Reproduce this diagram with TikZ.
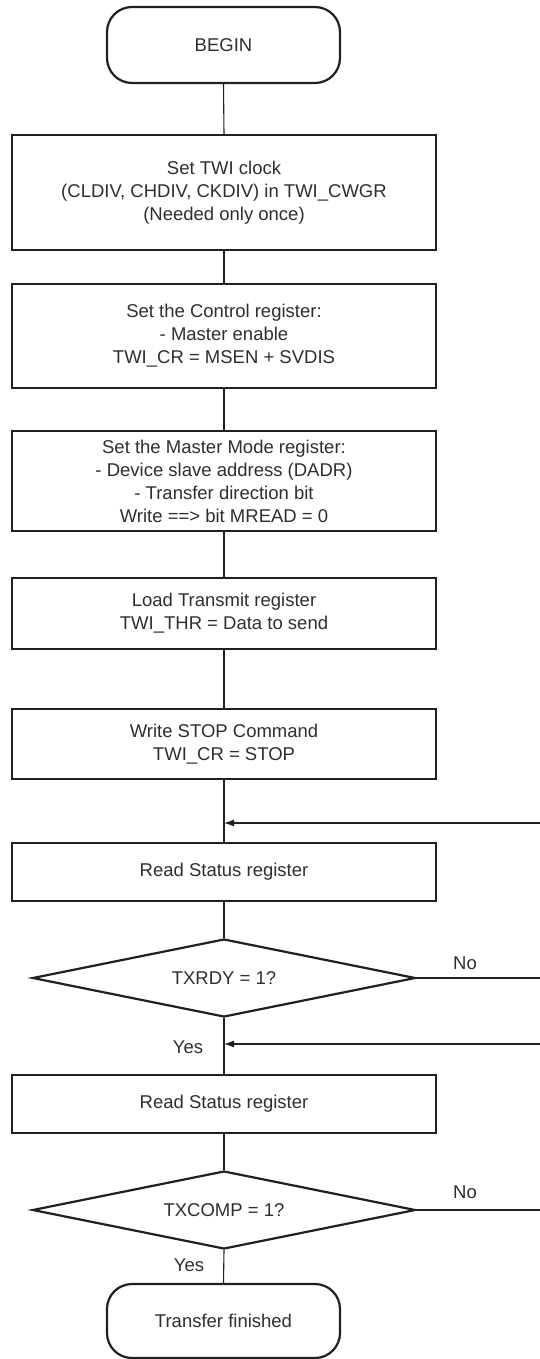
\documentclass[tikz,border=0pt]{standalone}
\usepackage{fontspec}
\setmainfont{Liberation Sans}
\usetikzlibrary{shapes.geometric,arrows.meta}
\definecolor{ink}{HTML}{231F20}
\definecolor{txt}{HTML}{2E2E2E}
\tikzset{
  base/.style={draw=ink, line width=2.2pt, text=txt, align=center, inner sep=0pt,
    font=\fontsize{18.5}{23}\selectfont},
  term/.style={base, rounded corners=25pt, minimum width=233pt, minimum height=76pt},
  proc/.style={base, minimum width=424pt},
  decision/.style={base, diamond, minimum width=383pt, minimum height=78pt, aspect=4.9},
  conn/.style={draw=ink, line width=1.1pt},
  arr/.style={conn, -{Latex[length=10pt,width=7pt]}},
  lbl/.style={text=txt, inner sep=0pt, font=\fontsize{18.5}{23}\selectfont}
}
\begin{document}
\begin{tikzpicture}[x=1pt,y=-1pt]
\useasboundingbox (0,0) rectangle (540,1359);
\node[term] (begin) at (223.5,45) {BEGIN};
\node[proc, minimum height=115pt] (b1) at (224,192.5) {Set TWI clock\\(CLDIV, CHDIV, CKDIV) in TWI\_CWGR\\(Needed only once)};
\node[proc, minimum height=104pt] (b2) at (224,336) {Set the Control register:\\- Master enable\\TWI\_CR = MSEN + SVDIS};
\node[proc, minimum height=100pt] (b3) at (224,481) {Set the Master Mode register:\\- Device slave address (DADR)\\- Transfer direction bit\\Write ==> bit MREAD = 0};
\node[proc, minimum height=71pt] (b4) at (224,613.5) {Load Transmit register\\TWI\_THR = Data to send};
\node[proc, minimum height=70pt] (b5) at (224,744) {Write STOP Command\\TWI\_CR = STOP};
\node[proc, minimum height=58pt] (r1) at (224,872) {Read Status register};
\node[decision] (d1) at (224,978) {TXRDY = 1?};
\node[proc, minimum height=58pt] (r2) at (224,1104) {Read Status register};
\node[decision] (d2) at (224,1210) {TXCOMP = 1?};
\node[term, minimum height=74pt] (end) at (223.5,1321) {Transfer finished};

\draw[conn] (begin.south) -- (b1.north);
\draw[conn] (b1.south) -- (b2.north);
\draw[conn] (b2.south) -- (b3.north);
\draw[conn] (b3.south) -- (b4.north);
\draw[conn] (b4.south) -- (b5.north);
\draw[conn] (b5.south) -- (r1.north);
\draw[conn] (r1.south) -- (d1.north);
\draw[conn] (d1.south) -- (r2.north);
\draw[conn] (r2.south) -- (d2.north);
\draw[conn] (d2.south) -- (end.north);

\coordinate (in1) at (540,823);
\coordinate (in2) at (540,1044);
\coordinate (no1) at (540,978);
\coordinate (no2) at (540,1210);
\draw[arr] (in1) -- (in1 -| b5.south);
\draw[arr] (in2) -- (in2 -| d1.south);
\draw[conn] (d1.east) -- (no1);
\draw[conn] (d2.east) -- (no2);

\node[lbl] (no1l) at (465,963) {No};
\node[lbl] (yes1l) at (188,1047) {Yes};
\node[lbl] (no2l) at (465,1192) {No};
\node[lbl] (yes2l) at (189,1265) {Yes};
\end{tikzpicture}
\end{document}
